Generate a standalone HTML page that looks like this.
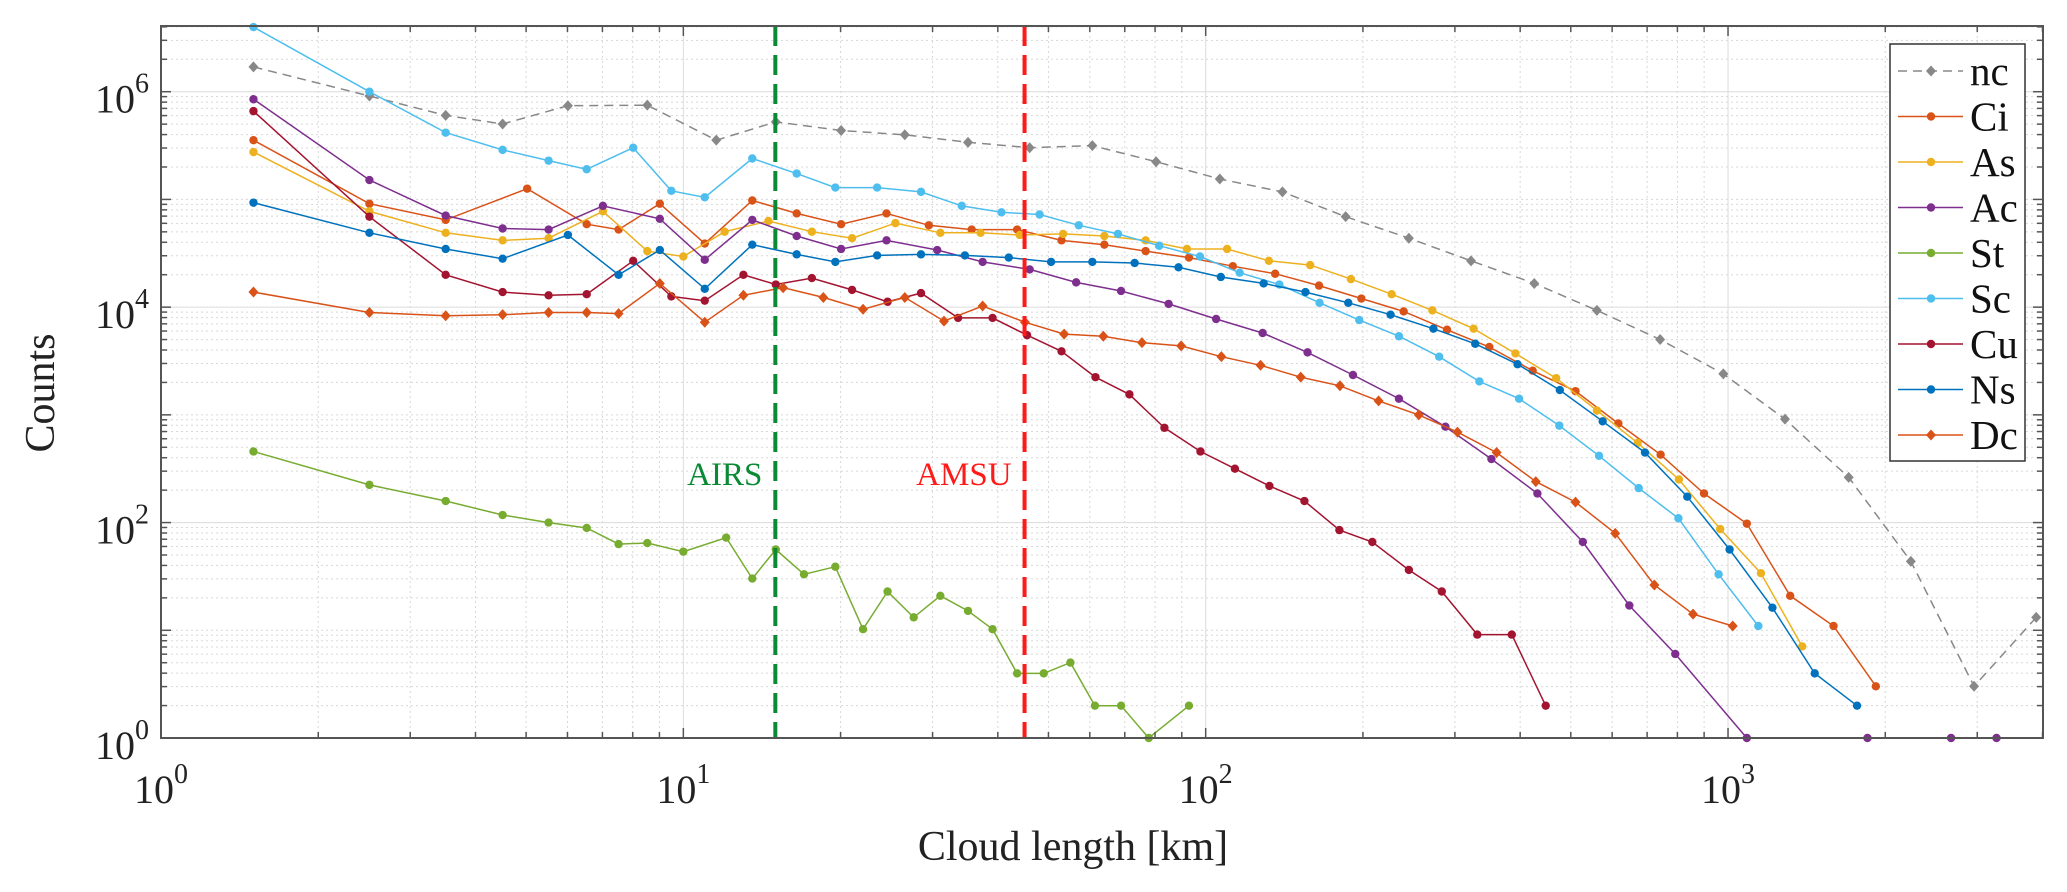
<!DOCTYPE html>
<html><head><meta charset="utf-8"><style>
html,body{margin:0;padding:0;background:#fff;}
svg{display:block;font-family:"Liberation Serif",serif;}
</style></head><body>
<svg id="chart" width="2067" height="892" viewBox="0 0 2067 892" xmlns="http://www.w3.org/2000/svg">
<rect x="0" y="0" width="2067" height="892" fill="#fff"/>
<g id="grid"></g>
<g id="series"></g>
<g id="axes"></g>
<text x="1073" y="860" font-size="42" text-anchor="middle" fill="#222">Cloud length [km]</text>
<text transform="translate(54,393) rotate(-90)" font-size="42" text-anchor="middle" fill="#222">Counts</text>
<g id="legend"></g>
</svg>
<script>
// axis limits (log10)
const xLogMin = 0, xLogMax = 3.603;
const yLogMin = 0, yLogMax = 6.61;
const xTickExps = [0, 1, 2, 3];
const yTickExps = [0, 2, 4, 6];
const seriesNames = ["nc","Ci","As","Ac","St","Sc","Cu","Ns","Dc"];
const seriesColors = ["#888888","#D95319","#EDB120","#7E2F8E","#77AC30","#4DBEEE","#A2142F","#0072BD","#D95319"];
const sensorNames = ["AIRS","AMSU"];
const sensorKm = [15, 45];

// data: log10(cloud length km), log10(counts)
const ncLogX = [0.177,0.399,0.545,0.654,0.779,0.931,1.063,1.177,1.302,1.424,1.545,1.663,1.783,1.905,2.027,2.147,2.268,2.389,2.508,2.629,2.749,2.870,2.991,3.109,3.231,3.350,3.471,3.590];
const ncLogY = [6.23,5.96,5.78,5.70,5.87,5.875,5.55,5.72,5.64,5.60,5.53,5.48,5.50,5.35,5.19,5.07,4.84,4.64,4.43,4.22,3.97,3.70,3.38,2.96,2.42,1.64,0.48,1.12];

const ciLogX = [0.177,0.399,0.545,0.701,0.815,0.876,0.955,1.041,1.132,1.217,1.302,1.389,1.470,1.552,1.639,1.724,1.806,1.885,1.968,2.052,2.133,2.217,2.298,2.379,2.462,2.543,2.626,2.708,2.790,2.871,2.954,3.036,3.119,3.202,3.283];
const ciLogY = [5.55,4.96,4.81,5.10,4.77,4.72,4.96,4.59,4.99,4.87,4.77,4.87,4.76,4.72,4.72,4.62,4.58,4.52,4.46,4.38,4.31,4.20,4.08,3.96,3.79,3.63,3.41,3.22,2.92,2.63,2.27,1.99,1.32,1.04,0.48];

const asLogX = [0.177,0.399,0.545,0.654,0.742,0.846,0.931,1.000,1.079,1.163,1.246,1.323,1.406,1.492,1.569,1.644,1.727,1.806,1.885,1.964,2.041,2.121,2.200,2.278,2.356,2.434,2.513,2.593,2.671,2.749,2.827,2.906,2.985,3.063,3.142];
const asLogY = [5.44,4.89,4.69,4.62,4.64,4.89,4.52,4.47,4.70,4.80,4.70,4.64,4.78,4.69,4.69,4.67,4.68,4.66,4.62,4.54,4.54,4.43,4.39,4.26,4.12,3.97,3.80,3.57,3.34,3.04,2.74,2.40,1.94,1.53,0.85];

const acLogX = [0.177,0.399,0.545,0.654,0.742,0.846,0.955,1.041,1.132,1.217,1.302,1.389,1.486,1.573,1.663,1.752,1.838,1.929,2.020,2.109,2.195,2.282,2.370,2.459,2.547,2.635,2.722,2.811,2.899,3.036,3.267,3.427,3.514];
const acLogY = [5.93,5.18,4.85,4.73,4.72,4.94,4.82,4.44,4.81,4.66,4.54,4.62,4.53,4.42,4.35,4.23,4.15,4.03,3.89,3.76,3.58,3.37,3.15,2.89,2.59,2.27,1.82,1.23,0.78,0,0,0,0];

const stLogX = [0.177,0.399,0.545,0.654,0.742,0.815,0.876,0.931,1.000,1.082,1.132,1.177,1.231,1.291,1.344,1.391,1.441,1.492,1.545,1.592,1.639,1.690,1.741,1.788,1.838,1.891,1.968];
const stLogY = [2.66,2.35,2.20,2.07,2.00,1.95,1.80,1.81,1.73,1.86,1.48,1.75,1.52,1.59,1.01,1.36,1.12,1.32,1.18,1.01,0.60,0.60,0.70,0.30,0.30,0,0.30];

const scLogX = [0.177,0.399,0.545,0.654,0.742,0.815,0.904,0.977,1.041,1.132,1.217,1.291,1.371,1.455,1.533,1.609,1.682,1.757,1.832,1.911,1.989,2.065,2.141,2.218,2.294,2.370,2.447,2.524,2.600,2.677,2.753,2.829,2.905,2.982,3.058];
const scLogY = [6.60,6.00,5.62,5.46,5.36,5.28,5.48,5.08,5.02,5.38,5.24,5.11,5.11,5.07,4.94,4.88,4.86,4.76,4.68,4.57,4.47,4.32,4.21,4.04,3.88,3.73,3.54,3.31,3.15,2.90,2.62,2.32,2.04,1.52,1.04];

const cuLogX = [0.177,0.399,0.545,0.654,0.742,0.815,0.904,0.977,1.041,1.115,1.177,1.246,1.323,1.391,1.455,1.526,1.592,1.658,1.724,1.789,1.854,1.921,1.990,2.056,2.122,2.189,2.256,2.319,2.389,2.452,2.520,2.586,2.651];
const cuLogY = [5.82,4.84,4.30,4.14,4.11,4.12,4.43,4.10,4.06,4.30,4.21,4.27,4.16,4.05,4.13,3.90,3.90,3.74,3.59,3.35,3.19,2.88,2.66,2.50,2.34,2.20,1.93,1.82,1.56,1.36,0.96,0.96,0.30];

const nsLogX = [0.177,0.399,0.545,0.654,0.779,0.876,0.955,1.041,1.132,1.217,1.291,1.371,1.455,1.539,1.623,1.704,1.783,1.864,1.948,2.029,2.111,2.191,2.273,2.354,2.436,2.516,2.597,2.678,2.760,2.841,2.922,3.003,3.085,3.166,3.247];
const nsLogY = [4.97,4.69,4.54,4.45,4.67,4.30,4.53,4.17,4.58,4.49,4.42,4.48,4.49,4.48,4.46,4.42,4.42,4.41,4.37,4.28,4.22,4.14,4.04,3.93,3.80,3.66,3.47,3.23,2.94,2.65,2.24,1.75,1.21,0.60,0.30];

const dcLogX = [0.177,0.399,0.545,0.654,0.742,0.815,0.876,0.955,1.041,1.115,1.191,1.268,1.344,1.424,1.499,1.573,1.654,1.729,1.804,1.878,1.953,2.030,2.105,2.182,2.257,2.331,2.408,2.482,2.557,2.632,2.708,2.784,2.859,2.933,3.009];
const dcLogY = [4.14,3.95,3.92,3.93,3.95,3.95,3.94,4.22,3.86,4.11,4.18,4.09,3.98,4.09,3.87,4.01,3.86,3.75,3.73,3.67,3.64,3.54,3.46,3.35,3.27,3.13,3.00,2.84,2.65,2.38,2.19,1.90,1.42,1.15,1.04];

const allLogX = [ncLogX,ciLogX,asLogX,acLogX,stLogX,scLogX,cuLogX,nsLogX,dcLogX];
const allLogY = [ncLogY,ciLogY,asLogY,acLogY,stLogY,scLogY,cuLogY,nsLogY,dcLogY];

const NS = "http://www.w3.org/2000/svg";
const L = 161, R = 2043, T = 26, B = 738;
function sx(lx){ return L + (lx - xLogMin) / (xLogMax - xLogMin) * (R - L); }
function sy(ly){ return B - (ly - yLogMin) / (yLogMax - yLogMin) * (B - T); }
function mk(tag, attrs, parent){
  const e = document.createElementNS(NS, tag);
  for (const k in attrs) e.setAttribute(k, attrs[k]);
  parent.appendChild(e);
  return e;
}
const grid = document.getElementById('grid');
const axes = document.getElementById('axes');
const ser = document.getElementById('series');
const leg = document.getElementById('legend');

// grid lines
for (let d = 0; d < 4; d++) {
  for (let m = 1; m <= 9; m++) {
    const lx = d + Math.log10(m);
    if (lx > xLogMax) continue;
    const x = sx(lx);
    const major = m === 1;
    const gl = mk('line', {x1:x, x2:x, y1:T, y2:B, stroke: major ? '#dcdcdc' : '#d8d8d8', 'stroke-width': 1, 'stroke-dasharray': major ? '' : '2,3'}, grid);
    
    
    const tl = major ? 10 : 6;
    const t1 = mk('line', {x1:x, x2:x, y1:B, y2:B - tl, stroke:'#555', 'stroke-width':1.5}, axes);
    
    
    const t2 = mk('line', {x1:x, x2:x, y1:T, y2:T + tl, stroke:'#555', 'stroke-width':1.5}, axes);
    
    
  }
}
for (let d = 0; d < 7; d++) {
  for (let m = 1; m <= 9; m++) {
    const ly = d + Math.log10(m);
    if (ly > yLogMax) continue;
    const y = sy(ly);
    const major = m === 1 && yTickExps.indexOf(d) >= 0;
    const gl = mk('line', {x1:L, x2:R, y1:y, y2:y, stroke: major ? '#dcdcdc' : '#d8d8d8', 'stroke-width': 1, 'stroke-dasharray': major ? '' : '2,3'}, grid);
    
    
    const tl = m === 1 ? 10 : 6;
    const t1 = mk('line', {x1:L, x2:L + tl, y1:y, y2:y, stroke:'#555', 'stroke-width':1.5}, axes);
    
    
    const t2 = mk('line', {x1:R, x2:R - tl, y1:y, y2:y, stroke:'#555', 'stroke-width':1.5}, axes);
    
    
  }
}
const frame = mk('rect', {x:L, y:T, width:R - L, height:B - T, fill:'none', stroke:'#555', 'stroke-width':2}, axes);



// tick labels
xTickExps.forEach(e => {
  const t = mk('text', {x: sx(e), y: 803, 'font-size': 40, 'text-anchor':'middle', fill:'#222'}, axes);
  
  
  t.innerHTML = '10<tspan dy="-20" font-size="28">' + e + '</tspan>';
});
yTickExps.forEach(e => {
  const t = mk('text', {x: 149, y: sy(e) + 21, 'font-size': 40, 'text-anchor':'end', fill:'#222'}, axes);
  
  
  t.innerHTML = '10<tspan dy="-20" font-size="28">' + e + '</tspan>';
});

// series
function marker(parent, x, y, color, diamond){
  let m;
  if (diamond) m = mk('path', {d:'M'+x+' '+(y-5.5)+' L'+(x+5)+' '+y+' L'+x+' '+(y+5.5)+' L'+(x-5)+' '+y+' Z', fill:color}, parent);
  else m = mk('circle', {cx:x, cy:y, r:4.2, fill:color}, parent);
  return m;
}
allLogX.forEach((xs, i) => {
  const ys = allLogY[i];
  const g = mk('g', {}, ser);
  
  
  const pts = xs.map((v, j) => sx(v).toFixed(1) + ',' + sy(ys[j]).toFixed(1)).join(' ');
  const dashed = i === 0;
  const pl = mk('polyline', {points: pts, fill:'none', stroke: seriesColors[i], 'stroke-width': 1.5, 'stroke-dasharray': dashed ? '9,6' : ''}, g);
  
  
  const diamond = (i === 0 || i === 8);
  xs.forEach((v, j) => {
    const m = marker(g, sx(v), sy(ys[j]), seriesColors[i], diamond);
    
    
  });
});

// sensor resolution lines
const sensorColors = ['#0a8a35', '#ff1a1a'];
sensorKm.forEach((km, i) => {
  const x = sx(Math.log10(km));
  const ln = mk('line', {x1:x, x2:x, y1:T, y2:B, stroke: sensorColors[i], 'stroke-width': 4, 'stroke-dasharray':'20,9'}, ser);
  
  
  const t = mk('text', {x: x - 13, y: 485, 'font-size': 33, 'text-anchor':'end', fill: sensorColors[i]}, ser);
  
  
  t.textContent = sensorNames[i];
});

// legend
const lbox = mk('rect', {x:1890, y:44, width:135, height:417, fill:'#fff', stroke:'#333', 'stroke-width':1.5}, leg);


seriesNames.forEach((n, i) => {
  const y = 71 + i * 45.5;
  const g = mk('g', {}, leg);
  
  
  mk('line', {x1:1898, x2:1963, y1:y, y2:y, stroke: seriesColors[i], 'stroke-width':1.5, 'stroke-dasharray': i === 0 ? '9,6' : ''}, g);
  marker(g, 1931, y, seriesColors[i], i === 0 || i === 8);
  const t = mk('text', {x:1970, y: y + 14, 'font-size': 41, fill:'#111'}, g);
  t.textContent = n;
});
</script>
</body></html>
